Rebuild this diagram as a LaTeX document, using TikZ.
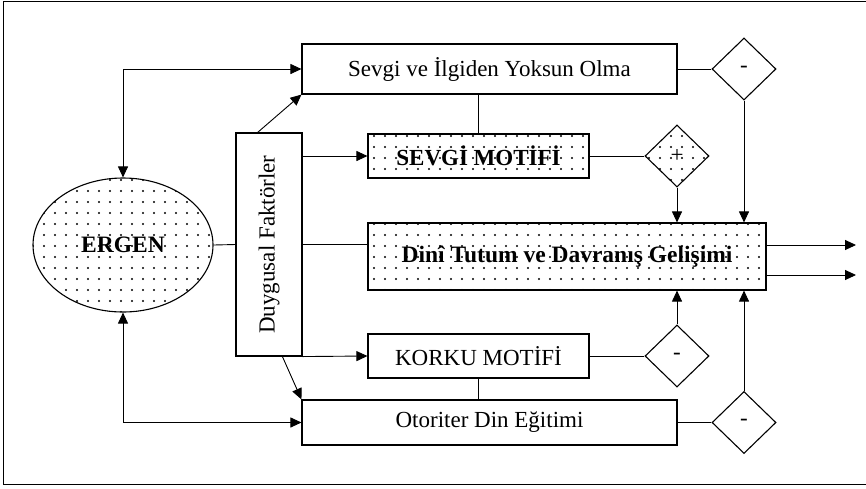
\documentclass[tikz,border=0pt]{standalone}
\usepackage{fontspec}
\setmainfont{Liberation Serif}
\usetikzlibrary{shapes.geometric,arrows.meta,patterns.meta,calc}
\begin{document}
\begin{tikzpicture}[x=1pt,y=-1pt,
  font=\fontsize{23}{27}\selectfont,
  box/.style={draw,line width=1.1pt,rectangle,inner sep=0pt},
  dotfill/.style={pattern={Dots[distance=11pt,radius=1.05pt]},pattern color=black},
  dia/.style={draw,line width=1.1pt,diamond,inner sep=0pt,minimum width=64pt,minimum height=62pt},
  conn/.style={line width=0.9pt},
  arr/.style={conn,-{Triangle[length=11pt,width=10pt]}},
  darr/.style={conn,{Triangle[length=11pt,width=10pt]}-{Triangle[length=11pt,width=10pt]}}
]
\useasboundingbox (0,0) rectangle (866,488);
% frame
\draw[line width=1pt] (866,1.5) -- (3,1.5) -- (3,484) -- (866,484);

% nodes
\node[draw,line width=1.1pt,ellipse,dotfill,minimum width=180pt,minimum height=134pt,inner sep=0pt] (ergen) at (123,245) {};
\node[font=\fontsize{23.5}{27}\selectfont\bfseries] (ergentxt) at (ergen.center) {ERGEN};

\node[box,minimum width=66pt,minimum height=223pt] (duyg) at (269,244.5) {};
\node[rotate=90] (duygtxt) at (duyg.center) {Duygusal Faktörler};

\node[box,minimum width=375pt,minimum height=50pt] (sevgi) at (489.5,69) {Sevgi ve İlgiden Yoksun Olma};
\node[box,dotfill,minimum width=221pt,minimum height=44pt,font=\fontsize{23}{27}\selectfont\bfseries] (smot) at (478.5,156) {SEVGİ MOTİFİ};
\node[box,dotfill,minimum width=398pt,minimum height=67pt,font=\fontsize{23.5}{27}\selectfont\bfseries] (dini) at (567,256.5) {Dinî Tutum ve Davranış Gelişimi};
\node[box,minimum width=221pt,minimum height=44pt] (korku) at (478.5,356) {KORKU MOTİFİ};
\node[box,minimum width=375pt,minimum height=45pt] (otor) at (489.5,422.5) {Otoriter Din Eğitimi};

\node[dia] (d1) at (744,69) {-};
\node[dia,dotfill] (d2) at (677,156) {+};
\node[dia] (d3) at (677,356) {-};
\node[dia] (d4) at (744,422.5) {-};

\coordinate (o1) at (856,245);
\coordinate (o2) at (856,275);

% connectors
\draw[darr] (ergen.north) |- (sevgi.west);
\draw[darr] (ergen.south) |- (otor.west);
\draw[conn] (ergen.east) -- (duyg.west);
\draw[arr] ($(duyg.north west)!0.33!(duyg.north east)$) -- (sevgi.south west);
\draw[arr] (smot.west -| duyg.east) -- (smot.west);
\draw[conn] (duyg.east) -- (duyg.east -| dini.west);
\draw[arr] (duyg.south east) -- (korku.west);
\draw[arr] ($(duyg.south west)!0.7!(duyg.south east)$) -- (otor.north west);
\draw[conn] (smot.north) -- (smot.north |- sevgi.south);
\draw[conn] (korku.south) -- (korku.south |- otor.north);

\draw[conn] (sevgi.east) -- (d1.west);
\draw[arr] (d1.south) -- (d1.south |- dini.north);
\draw[conn] (smot.east) -- (d2.west);
\draw[arr] (d2.south) -- (d2.south |- dini.north);
\draw[conn] (korku.east) -- (d3.west);
\draw[arr] (d3.north) -- (d3.north |- dini.south);
\draw[conn] (otor.east) -- (d4.west);
\draw[arr] (d4.north) -- (d4.north |- dini.south);

\draw[arr] (o1 -| dini.east) -- (o1);
\draw[arr] (o2 -| dini.east) -- (o2);
\end{tikzpicture}
\end{document}
